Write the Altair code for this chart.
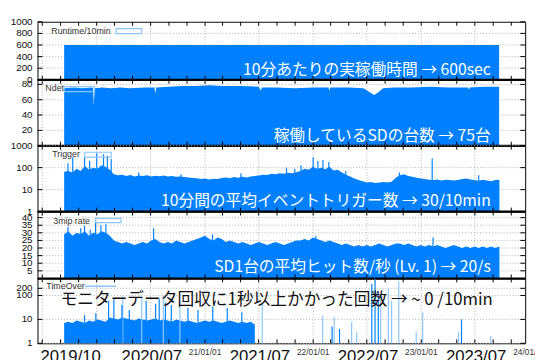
import altair as alt
import pandas as pd

BLUE = "#0080ff"
LIGHT = "#8cc6ff"
GRIDC = "#b0b0b0"
W = 496
H = [59, 67, 67, 68, 66]
STRIP_H = 17
X_DOMAIN = [alt.DateTime(year=2019, month=6, date=15), alt.DateTime(year=2023, month=12, date=18)]
X_DOMAIN_STRIP = [alt.DateTime(year=2019, month=6, date=15), alt.DateTime(year=2024, month=1, date=20)]
FONT = "Liberation Sans"

# ---------------- data ----------------
runtime_dates = ["2019-09-13", "2023-09-21"]
runtime_vals = [600, 600]

ndet_dates = ["2019-09-13", "2019-10-15", "2019-11-15", "2019-12-15", "2019-12-20", "2019-12-22",
              "2019-12-25", "2020-01-20", "2020-02-20", "2020-03-20", "2020-04-20", "2020-06-15",
              "2020-07-14", "2020-07-17", "2020-07-20", "2020-09-01", "2020-10-15", "2020-12-01",
              "2021-01-15", "2021-03-01", "2021-05-01", "2021-07-01", "2021-07-08", "2021-07-12",
              "2021-09-01", "2021-11-01", "2022-01-01", "2022-02-22", "2022-02-25", "2022-02-28",
              "2022-05-01", "2022-06-20", "2022-07-10", "2022-07-26", "2022-08-10", "2022-08-25",
              "2022-10-01", "2022-12-01", "2023-02-01", "2023-04-01", "2023-06-08", "2023-06-11",
              "2023-06-14", "2023-08-01", "2023-09-21"]
ndet_vals = [75, 76, 75, 76, 75, 52,
             75, 76, 75, 76, 75, 76,
             76, 68, 76, 77, 78, 78,
             79, 78, 78, 77, 72, 76,
             76, 75, 76, 76, 72, 76,
             76, 75, 70, 66, 70, 75,
             76, 76, 77, 76, 76, 73,
             76, 77, 77]

base_start = "2019-09-13"   # 14-day samples
trigger_vals = [65, 70, 60, 90, 70, 120, 80, 100, 90, 130, 110, 80,
                50, 45, 48, 42, 46, 40, 44, 42, 45, 40, 43, 41, 44, 40, 42, 38,
                40, 37, 36, 34,
                33, 30, 32, 29, 31, 30,
                34, 36, 33, 37, 35, 38, 36, 40, 42,
                44, 48, 46, 52, 50, 55, 52, 58, 56, 62,
                70, 90, 80, 110, 90, 100, 85, 110, 75, 80,
                60, 48, 40, 32, 27, 24,
                21, 22, 20, 21, 22, 21, 23,
                35, 45, 50, 42, 38, 35, 32, 30,
                28, 27, 29, 26, 28, 27, 26, 27,
                30, 32, 29, 27, 25, 28, 26, 24, 27, 28]
mip_vals = [29, 31, 28, 30, 29, 31, 28, 30, 29, 31, 30, 28,
            25, 24, 23, 24, 23, 22, 23, 24, 23, 25, 26, 24, 23, 24, 23, 25,
            24, 23, 24, 25,
            26, 27, 28, 26, 25, 27,
            26, 24, 25, 24, 23, 24, 23, 22, 23,
            24, 23, 22, 23, 24, 23, 22, 23, 24, 25,
            25, 26, 25, 27, 26, 25, 24, 25, 24, 23,
            22, 23, 22, 21, 22, 21,
            22, 21, 22, 23, 22, 21, 22,
            23, 23, 22, 23, 22, 21, 22, 21,
            22, 21, 22, 21, 20, 21, 22, 21,
            20, 21, 20, 21, 20, 21, 20, 21, 20, 21]
timeover_vals = [7, 8, 7, 9, 8, 7, 9, 8, 10, 9, 8, 12,
                 11, 10, 12, 11, 10, 9, 11, 10, 9, 10, 11, 9,
                 10, 9, 8, 10, 9, 8, 9, 8, 7, 8, 9, 8,
                 9, 8, 7, 8, 9, 8, 7, 8, 7, 8, 6]

trigger_spike_dates = ["2019-09-26", "2019-10-12", "2019-11-21", "2019-12-08", "2020-01-01", "2020-01-24",
                       "2020-02-06", "2020-02-19", "2020-05-22", "2020-10-12", "2021-05-02", "2021-10-03",
                       "2021-10-31", "2021-11-21", "2022-01-01", "2022-01-17", "2022-02-03", "2022-02-23",
                       "2022-04-21", "2022-10-19", "2023-02-07", "2023-07-14"]
trigger_spike_vals = [160, 300, 300, 200, 450, 400, 350, 250, 60, 50, 55, 100,
                      90, 130, 300, 200, 220, 180, 70, 60, 260, 45]

mip_spike_dates = ["2019-09-26", "2019-11-08", "2019-11-21", "2019-12-10", "2019-12-28", "2020-01-15",
                   "2020-02-01", "2020-07-11", "2021-01-26", "2022-01-10", "2023-02-10"]
mip_spike_vals = [34, 33, 34.6, 32, 37, 35, 35.7, 33, 29, 28, 27]

to_dark_dates = ["2019-11-21", "2019-12-29", "2020-02-10", "2020-02-28", "2020-03-26", "2020-04-20",
                 "2020-06-16", "2020-07-18", "2020-07-30", "2020-08-20", "2020-09-09", "2020-11-04",
                 "2020-12-08", "2021-01-27", "2021-03-17", "2021-05-05",
                 "2022-03-06", "2022-03-31", "2022-07-18", "2022-07-29", "2022-08-09", "2023-05-17"]
to_dark_vals = [15, 18, 60, 70, 40, 25, 60, 45, 70, 50, 40, 30, 25, 35, 30, 20,
                5, 4, 300, 500, 150, 10]
to_light_dates = ["2020-03-29", "2020-06-01", "2020-08-13", "2020-10-08", "2021-07-13", "2022-02-02",
                  "2022-03-13", "2022-05-11", "2022-05-28", "2022-08-17", "2022-09-12", "2022-09-23",
                  "2022-10-17", "2022-12-15", "2023-01-06", "2023-05-07", "2023-08-24"]
to_light_vals = [90, 85, 100, 60, 45, 15, 13, 8, 3, 80, 200, 60, 400, 3, 20, 3, 2]

grid_dates = ["2019-07-01", "2020-01-01", "2020-07-01", "2021-01-01", "2021-07-01",
              "2022-01-01", "2022-07-01", "2023-01-01", "2023-07-01"]
minor_tick_dates = pd.date_range("2019-07-01", "2023-12-01", freq="2MS").strftime("%Y-%m-%d").tolist()

small_label_dates = ["2021-01-01", "2022-01-01", "2023-01-01", "2024-01-01"]
small_label_texts = ["21/01/01", "22/01/01", "23/01/01", "24/01/01"]
big_label_dates = ["2019-10-05", "2020-07-05", "2021-07-05", "2022-07-05", "2023-07-05"]
big_label_texts = ["2019/10", "2020/07", "2021/07", "2022/07", "2023/07"]


def frame(dates, vals):
    return pd.DataFrame({"date": dates, "value": vals})


dates14 = pd.date_range(base_start, periods=len(trigger_vals), freq="14D").strftime("%Y-%m-%d").tolist()
dates14_to = dates14[:len(timeover_vals)]

XS = alt.Scale(domain=X_DOMAIN)


def X():
    return alt.X("date:T", scale=XS, axis=None)


def Y(sc):
    return alt.Y("value:Q", scale=sc, axis=None)


def grid_layers(h, sc, yvals):
    gd = pd.DataFrame({"date": grid_dates})
    yt = pd.DataFrame({"value": yvals})
    return [
        alt.Chart(gd).mark_rule(color=GRIDC, strokeWidth=1, strokeDash=[1, 2]).encode(
            x=X(), y=alt.value(0), y2=alt.value(h)),
        alt.Chart(yt).mark_rule(color=GRIDC, strokeWidth=1, strokeDash=[1, 2]).encode(
            y=Y(sc), x=alt.value(0), x2=alt.value(W)),
    ]


def tick_layers(h, sc, yvals):
    mt = pd.DataFrame({"date": minor_tick_dates})
    yt = pd.DataFrame({"value": yvals, "lab": [str(v) for v in yvals]})
    return [
        alt.Chart(mt).mark_rule(color="black", strokeWidth=1).encode(
            x=X(), y=alt.value(0), y2=alt.value(4)),
        alt.Chart(mt).mark_rule(color="black", strokeWidth=1).encode(
            x=X(), y=alt.value(h - 4), y2=alt.value(h)),
        alt.Chart(yt).mark_rule(color="black", strokeWidth=1).encode(
            y=Y(sc), x=alt.value(0), x2=alt.value(5)),
        alt.Chart(yt).mark_rule(color="black", strokeWidth=1).encode(
            y=Y(sc), x=alt.value(W - 5), x2=alt.value(W)),
        alt.Chart(yt).mark_text(align="right", baseline="middle", fontSize=10,
                                font=FONT, color="#111").encode(
            y=Y(sc), x=alt.value(-5), text="lab:N"),
    ]


def legend(text, tx, ty, box=None, line=None):
    layers = [alt.Chart(pd.DataFrame({"t": [text]})).mark_text(
        align="left", baseline="middle", fontSize=9, font=FONT, color="#333").encode(
        text="t:N", x=alt.value(tx), y=alt.value(ty))]
    if box:
        layers.append(alt.Chart(pd.DataFrame({"t": [0]})).mark_rect(
            fill="white", fillOpacity=0, stroke=LIGHT, strokeWidth=1.2).encode(
            x=alt.value(box[0]), x2=alt.value(box[1]), y=alt.value(box[2]), y2=alt.value(box[3])))
    if line:
        layers.append(alt.Chart(pd.DataFrame({"t": [0]})).mark_rule(
            color=LIGHT, strokeWidth=1.5).encode(
            x=alt.value(line[0]), x2=alt.value(line[1]), y=alt.value(line[2])))
    return layers


def annot(text, y, color="white", size=16, right=461):
    return alt.Chart(pd.DataFrame({"t": [text]})).mark_text(
        align="right", baseline="middle", fontSize=size, font="Noto Sans CJK JP", color=color).encode(
        text="t:N", x=alt.value(right), y=alt.value(y))


def sep(h):
    return alt.Chart(pd.DataFrame({"t": [0]})).mark_rule(color="black", strokeWidth=2).encode(
        x=alt.value(0), x2=alt.value(W), y=alt.value(h))


FRAME = alt.ViewBackground(stroke="black", strokeWidth=1)

# Panel 1: Runtime
s1 = alt.Scale(type="linear", domain=[0, 1000])
p1_vals = [0, 200, 400, 600, 800, 1000]
p1 = alt.layer(
    *grid_layers(H[0], s1, p1_vals),
    alt.Chart(frame(runtime_dates, runtime_vals)).mark_area(color=BLUE).encode(x=X(), y=Y(s1)),
    *tick_layers(H[0], s1, p1_vals),
    *legend("Runtime/10min", 14, 9, box=(80, 106, 7, 12)),
    annot("10分あたりの実稼働時間 → 600sec", 49),
    sep(H[0]),
).properties(width=W, height=H[0], view=FRAME)

# Panel 2: Ndet
s2 = alt.Scale(type="linear", domain=[0, 86])
p2_vals = [20, 40, 60, 80]
p2 = alt.layer(
    *grid_layers(H[1], s2, p2_vals),
    alt.Chart(frame(ndet_dates, ndet_vals)).mark_area(color=BLUE).encode(x=X(), y=Y(s2)),
    *tick_layers(H[1], s2, p2_vals),
    *legend("Ndet", 8, 8.7, box=(27, 58, 7, 12)),
    annot("稼働しているSDの台数 → 75台", 57),
    sep(H[1]),
).properties(width=W, height=H[1], view=FRAME)

# Panel 3: Trigger
s3 = alt.Scale(type="log", domain=[1, 1000])
p3_vals = [1, 10, 100, 1000]
p3 = alt.layer(
    *grid_layers(H[2], s3, p3_vals),
    alt.Chart(frame(dates14, trigger_vals)).mark_area(color=BLUE).encode(
        x=X(), y=Y(s3), y2=alt.datum(1)),
    alt.Chart(frame(trigger_spike_dates, trigger_spike_vals)).mark_rule(color=BLUE, strokeWidth=1.2).encode(
        x=X(), y=Y(s3), y2=alt.datum(1)),
    *tick_layers(H[2], s3, p3_vals),
    *legend("Trigger", 15, 9, box=(48, 75, 6.7, 11.7)),
    annot("10分間の平均イベントトリガー数 → 30/10min", 56.7),
    sep(H[2]),
).properties(width=W, height=H[2], view=FRAME)

# Panel 4: 3mip rate
s4 = alt.Scale(type="linear", domain=[0, 44])
p4_vals = [5, 10, 15, 20, 25, 30, 35, 40]
p4 = alt.layer(
    *grid_layers(H[3], s4, p4_vals),
    alt.Chart(frame(dates14, mip_vals)).mark_area(color=BLUE).encode(x=X(), y=Y(s4)),
    alt.Chart(frame(mip_spike_dates, mip_spike_vals)).mark_rule(color=BLUE, strokeWidth=1.2).encode(
        x=X(), y=Y(s4), y2=alt.datum(0)),
    *tick_layers(H[3], s4, p4_vals),
    *legend("3mip rate", 16, 9.7, box=(59, 85, 7, 11.3)),
    annot("SD1台の平均ヒット数/秒 (Lv. 1) → 20/s", 56),
    sep(H[3]),
).properties(width=W, height=H[3], view=FRAME)

# Panel 5: TimeOver
s5 = alt.Scale(type="log", domain=[1, 520])
p5_vals = [1, 10, 100, 200]
p5 = alt.layer(
    *grid_layers(H[4], s5, p5_vals),
    alt.Chart(frame(dates14_to, timeover_vals)).mark_area(color=BLUE).encode(
        x=X(), y=Y(s5), y2=alt.datum(1)),
    alt.Chart(frame(to_light_dates, to_light_vals)).mark_rule(color=LIGHT, strokeWidth=1.2).encode(
        x=X(), y=Y(s5), y2=alt.datum(1)),
    alt.Chart(frame(to_dark_dates, to_dark_vals)).mark_rule(color=BLUE, strokeWidth=1.2).encode(
        x=X(), y=Y(s5), y2=alt.datum(1)),
    *tick_layers(H[4], s5, p5_vals),
    *legend("TimeOver", 9, 8, line=(48, 80, 8)),
    annot("モニターデータ回収に1秒以上かかった回数 → ~ 0 /10min", 22, color="#111", size=17, right=463),
).properties(width=W, height=H[4], view=FRAME)

# Bottom strip with the date labels (clipped at the picture edge like the reference)
XS2 = alt.Scale(domain=X_DOMAIN_STRIP)
strip = alt.layer(
    alt.Chart(pd.DataFrame({"date": small_label_dates, "t": small_label_texts})).mark_text(
        align="center", baseline="top", fontSize=8.5, font=FONT, color="#333", clip=True).encode(
        x=alt.X("date:T", scale=XS2, axis=None), y=alt.value(5), text="t:N"),
    alt.Chart(pd.DataFrame({"date": big_label_dates, "t": big_label_texts})).mark_text(
        align="center", baseline="alphabetic", fontSize=17, font=FONT, color="#111", clip=True).encode(
        x=alt.X("date:T", scale=XS2, axis=None), y=alt.value(19), text="t:N"),
).properties(width=W + 10, height=STRIP_H, view=alt.ViewBackground(stroke="transparent", strokeWidth=0))

chart = alt.vconcat(p1, p2, p3, p4, p5, strip, spacing=0, bounds="flush").resolve_scale(
    x="independent", y="independent"
).properties(padding={"left": 2, "top": 5, "right": 0, "bottom": 0})

chart.save("out.html", embed_options={"renderer": "svg", "actions": False})
